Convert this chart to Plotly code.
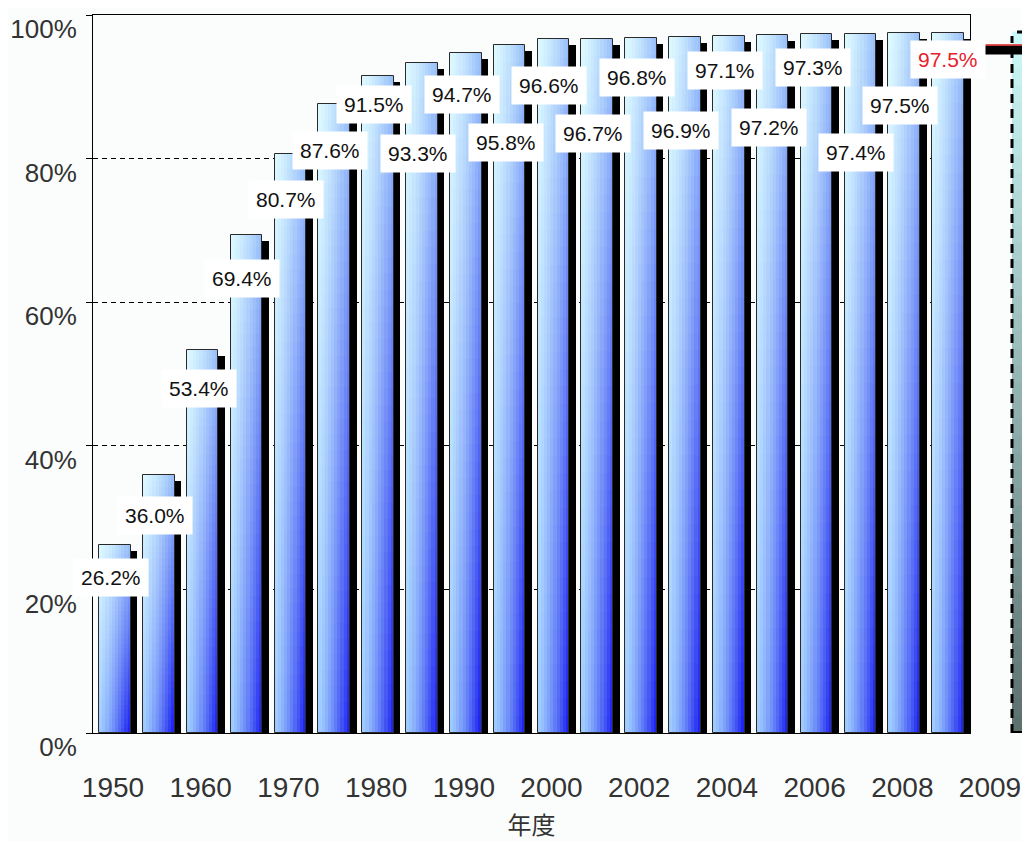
import plotly.graph_objects as go

# ---------------- data ----------------
years = ["1950", "1955", "1960", "1965", "1970", "1975", "1980", "1985", "1990", "1995",
         "2000", "2001", "2002", "2003", "2004", "2005", "2006", "2007", "2008", "2009"]
rates = [26.2, 36.0, 53.4, 69.4, 80.7, 87.6, 91.5, 93.3, 94.7, 95.8,
         96.6, 96.7, 96.8, 96.9, 97.1, 97.2, 97.3, 97.4, 97.5, 97.5]
tick_labels = ["1950", "1960", "1970", "1980", "1990", "2000",
               "2002", "2004", "2006", "2008", "2009"]
y_tick_vals = [0, 20, 40, 60, 80, 100]
y_tick_text = ["0%", "20%", "40%", "60%", "80%", "100%"]

# label placement (pixels below each bar top) – layout only
label_drop = [33, 41, 39, 44, 46, 46, 28, 90, 41, 97, 46, 95, 40, 93, 35, 92, 33, 119, 73, 27]

FONT = "Liberation Sans, Arial, Helvetica, sans-serif"
CJK = "Noto Sans CJK JP, Noto Sans CJK SC, sans-serif"

# page body has an 8px margin; the figure is sized to fit the window exactly
PAGE_OFF = 8
W_PX, H_PX = 1030 - 2 * PAGE_OFF, 849 - 2 * PAGE_OFF
ML, MT, MR = 93 - PAGE_OFF, 15 - PAGE_OFF, 0
plot_w = W_PX - ML - MR
plot_h = 718
MB = H_PX - MT - plot_h
x_dom_end = 877 / plot_w

BAR_W = 0.72
SHADOW_OFF = 0.15
shadow_drop = 6 * 100 / plot_h
NH, NV = 10, 40

TL, TR = (222, 250, 255), (150, 190, 250)
BL, BR = (160, 206, 255), (20, 24, 238)


def mix(a, b, t):
    return tuple(a[k] + (b[k] - a[k]) * t for k in range(3))


def grad_color(u, w):
    u2 = u ** 1.3
    top = mix(TL, TR, u2)
    bot = mix(BL, BR, u2)
    c = mix(bot, top, w)
    return "rgb(%d,%d,%d)" % tuple(int(round(v)) for v in c)


fig = go.Figure()

# shadow
fig.add_trace(go.Bar(
    x=years, y=[r - shadow_drop for r in rates],
    width=BAR_W, offset=-BAR_W / 2 + SHADOW_OFF,
    marker=dict(color="black", line=dict(width=0)),
    hoverinfo="skip",
))

# gradient-filled bars: nested overlapping pieces (later pieces cover the upper-right part)
for j in range(NV):
    for i in range(NH):
        fig.add_trace(go.Bar(
            x=years,
            y=[r * (1 - j / NV) for r in rates],
            base=[r * j / NV for r in rates],
            width=BAR_W * (1 - i / NH),
            offset=-BAR_W / 2 + i * BAR_W / NH,
            marker=dict(color=grad_color((i + 0.5) / NH, (j + 0.5) / NV), line=dict(width=0)),
            hoverinfo="skip",
        ))

# outline
fig.add_trace(go.Bar(
    x=years, y=rates, width=BAR_W, offset=-BAR_W / 2,
    marker=dict(color="rgba(0,0,0,0)", line=dict(color="#2a2a2a", width=1)),
    hovertemplate="%{x}: %{y:.1f}%<extra></extra>",
))

# carrier for the bottom year labels
fig.add_trace(go.Scatter(
    x=tick_labels, y=[0] * len(tick_labels), xaxis="x2", yaxis="y2",
    mode="markers", marker=dict(opacity=0, size=1), hoverinfo="skip",
))

annotations = []
for k, (r, d) in enumerate(zip(rates, label_drop)):
    last = k == len(rates) - 1
    annotations.append(dict(
        x=k, y=r, xref="x", yref="y", text=f"{r:.1f}%", showarrow=False,
        yshift=-d, xshift=0 if last else -4, bgcolor="white", borderpad=7,
        font=dict(family=FONT, size=21, color="#e8202a" if last else "#111"),
    ))


def px_x(page_px):
    return (page_px - PAGE_OFF - ML) / plot_w


def px_y(page_py):
    return (MT + plot_h - (page_py - PAGE_OFF)) / plot_h


shapes = []
# decorative gradient panel cut off at the right edge
n_band = 40
top_c, bot_c = (205, 250, 250), (92, 112, 110)
y_lo, y_hi = px_y(733), px_y(33)
for b in range(n_band):
    c = mix(bot_c, top_c, (b + 0.5) / n_band)
    shapes.append(dict(
        type="rect", xref="paper", yref="paper",
        x0=px_x(1012), x1=px_x(1040),
        y0=y_lo + (y_hi - y_lo) * b / n_band, y1=y_lo + (y_hi - y_lo) * (b + 1) / n_band + 0.002,
        fillcolor="rgb(%d,%d,%d)" % tuple(int(v) for v in c), line=dict(width=0), layer="above",
    ))
shapes += [
    dict(type="line", xref="paper", yref="paper", x0=px_x(1012), x1=px_x(1012),
         y0=px_y(733), y1=px_y(36), line=dict(color="black", width=3, dash="9px,6px")),
    dict(type="line", xref="paper", yref="paper", x0=px_x(1012), x1=px_x(1023),
         y0=px_y(732), y1=px_y(732), line=dict(color="black", width=2)),
    dict(type="line", xref="paper", yref="paper", x0=px_x(1017), x1=px_x(1040),
         y0=px_y(32), y1=px_y(32), line=dict(color="black", width=3)),
    dict(type="line", xref="paper", yref="paper", x0=px_x(982), x1=px_x(1040),
         y0=px_y(50), y1=px_y(50), line=dict(color="black", width=9)),
    dict(type="line", xref="paper", yref="paper", x0=px_x(983), x1=px_x(1040),
         y0=px_y(45), y1=px_y(45), line=dict(color="#e02020", width=1.5)),
]

# range of the label axis: first label at page x=113, last at page x=990
first_px, last_px = 113, 990
span = (len(tick_labels) - 1) * plot_w / (last_px - first_px)
r0 = -(first_px - 93) * span / plot_w

fig.update_layout(
    width=W_PX, height=H_PX,
    margin=dict(l=ML, r=MR, t=MT, b=MB),
    paper_bgcolor="#fbfdfd", plot_bgcolor="rgba(0,0,0,0)",
    barmode="overlay", bargap=0, bargroupgap=0, showlegend=False,
    annotations=annotations, shapes=shapes,
    xaxis=dict(
        type="category", domain=[0, x_dom_end], anchor="y", range=[-0.5, len(years) - 0.5],
        showticklabels=False, ticks="", showgrid=False, zeroline=False,
        showline=True, linecolor="black", linewidth=1, mirror=True, layer="below traces",
        title=dict(text="年度", font=dict(family=CJK, size=24, color="#333"), standoff=88),
        automargin=False,
    ),
    yaxis=dict(
        range=[0, 100], domain=[0, 1], anchor="x",
        tickvals=y_tick_vals, ticktext=y_tick_text,
        ticks="outside", ticklen=6, tickcolor="black", tickwidth=1,
        showline=True, linecolor="black", linewidth=1, mirror=True,
        showgrid=True, gridcolor="black", gridwidth=1, griddash="5px,4px",
        zeroline=False, layer="below traces",
        tickfont=dict(family=FONT, size=26, color="#333"),
        ticklabelshift=14, ticklabelstandoff=4, automargin=False,
    ),
    xaxis2=dict(
        type="category", domain=[0, 1], anchor="y2", range=[r0, r0 + span],
        showgrid=False, showline=False, ticks="", zeroline=False,
        tickfont=dict(family=FONT, size=28, color="#333"), ticklabelstandoff=35,
        automargin=False,
    ),
    yaxis2=dict(domain=[0, 1], anchor="x2", range=[0, 100], visible=False),
)

fig.write_html("out.html")
